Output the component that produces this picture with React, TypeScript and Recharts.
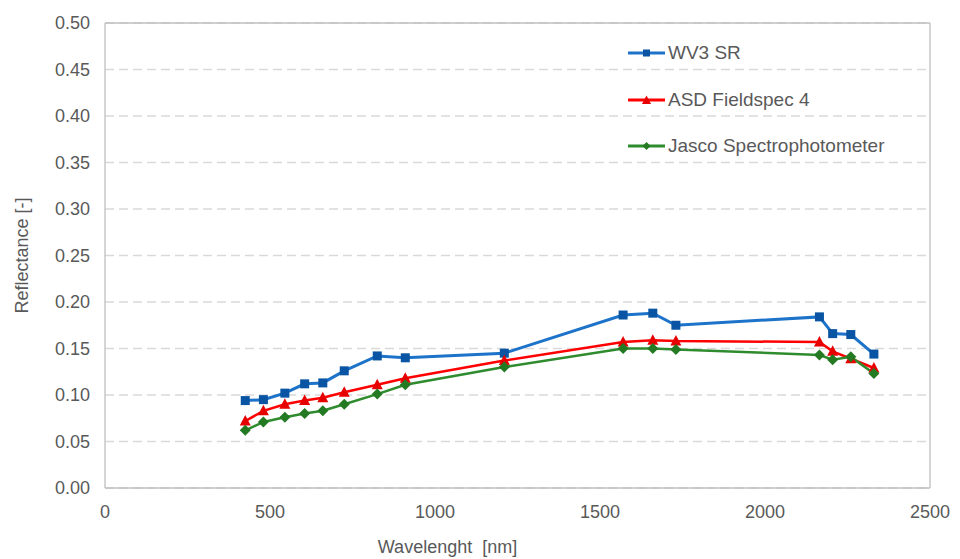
import React from 'react';
import { LineChart, Line, XAxis, YAxis, CartesianGrid, Legend, ReferenceLine } from 'recharts';

const wavelengths = [425, 480, 545, 605, 660, 725, 825, 910, 1210, 1570, 1660, 1730, 2165, 2205, 2260, 2330];
const wv3Values = [0.094, 0.095, 0.102, 0.112, 0.113, 0.126, 0.142, 0.140, 0.145, 0.186, 0.188, 0.175, 0.184, 0.166, 0.165, 0.144];
const asdValues = [0.072, 0.083, 0.090, 0.094, 0.097, 0.103, 0.111, 0.118, 0.137, 0.157, 0.159, 0.158, 0.157, 0.147, 0.139, 0.129];
const jascoValues = [0.062, 0.071, 0.076, 0.080, 0.083, 0.090, 0.101, 0.111, 0.130, 0.150, 0.150, 0.149, 0.143, 0.138, 0.141, 0.123];

const xTicks = [0, 500, 1000, 1500, 2000, 2500];
const yTicks = [0, 0.05, 0.1, 0.15, 0.2, 0.25, 0.3, 0.35, 0.4, 0.45, 0.5];

const seriesNames = ['WV3 SR', 'ASD Fieldspec 4', 'Jasco Spectrophotometer'];

const data = wavelengths.map((w, i) => ({
  w,
  wv3: wv3Values[i],
  asd: asdValues[i],
  jasco: jascoValues[i],
}));

const BLUE_LINE = '#1c73c9';
const BLUE_MARK = '#0a55a3';
const RED_LINE = '#ff0000';
const RED_MARK = '#e60000';
const GREEN_LINE = '#2e8b2e';
const GREEN_MARK = '#237a23';
const FONT = '"Liberation Sans", Arial, sans-serif';
const TEXT = '#595959';

const SquareDot = (props: any) => {
  const { cx, cy, index } = props;
  if (cx == null || cy == null) return <g key={`s${index}`} />;
  return <rect key={`s${index}`} x={cx - 4.5} y={cy - 4.5} width={9} height={9} fill={BLUE_MARK} />;
};

const TriangleDot = (props: any) => {
  const { cx, cy, index } = props;
  if (cx == null || cy == null) return <g key={`t${index}`} />;
  return (
    <polygon
      key={`t${index}`}
      points={`${cx},${cy - 6} ${cx + 5.5},${cy + 4.5} ${cx - 5.5},${cy + 4.5}`}
      fill={RED_MARK}
    />
  );
};

const DiamondDot = (props: any) => {
  const { cx, cy, index } = props;
  if (cx == null || cy == null) return <g key={`d${index}`} />;
  return (
    <polygon
      key={`d${index}`}
      points={`${cx},${cy - 5.5} ${cx + 5.5},${cy} ${cx},${cy + 5.5} ${cx - 5.5},${cy}`}
      fill={GREEN_MARK}
    />
  );
};

const legendItems = [
  { name: seriesNames[0], line: BLUE_LINE, mark: BLUE_MARK, shape: 'square' },
  { name: seriesNames[1], line: RED_LINE, mark: RED_MARK, shape: 'triangle' },
  { name: seriesNames[2], line: GREEN_LINE, mark: GREEN_MARK, shape: 'diamond' },
];

const LegendContent = () => (
  <div style={{ fontFamily: FONT, fontSize: 19, color: TEXT }}>
    {legendItems.map((it) => (
      <div key={it.name} style={{ display: 'flex', alignItems: 'center', height: 46.5 }}>
        <svg width={40} height={12} style={{ marginRight: 0 }}>
          <line x1={0} y1={6} x2={37} y2={6} stroke={it.line} strokeWidth={3} />
          {it.shape === 'square' && <rect x={15} y={2.5} width={7} height={7} fill={it.mark} />}
          {it.shape === 'triangle' && <polygon points="18.5,1.5 23,10 14,10" fill={it.mark} />}
          {it.shape === 'diamond' && <polygon points="18.5,2 22.5,6 18.5,10 14.5,6" fill={it.mark} />}
        </svg>
        <span>{it.name}</span>
      </div>
    ))}
  </div>
);

export default function App() {
  return (
    <div style={{ position: 'absolute', left: 0, top: 0, width: 960, height: 559, background: '#fff' }}>
      <LineChart width={960} height={559} data={data} margin={{ top: 23, right: 30, bottom: 41, left: 0 }}>
        <CartesianGrid horizontal={true} vertical={false} stroke="#d9d9d9" strokeDasharray="9 5" strokeWidth={1.3} />
        <XAxis
          type="number"
          dataKey="w"
          domain={[0, 2500]}
          ticks={xTicks}
          height={30}
          tickLine={false}
          tickSize={0}
          tickMargin={17}
          axisLine={{ stroke: '#bfbfbf', strokeWidth: 1.3 }}
          tick={{ fill: TEXT, fontSize: 18, fontFamily: FONT }}
          label={{
            value: 'Wavelenght\u00a0\u00a0[nm]',
            position: 'bottom',
            offset: 22,
            dx: -70,
            fill: TEXT,
            fontSize: 18,
            fontFamily: FONT,
          }}
        />
        <YAxis
          type="number"
          domain={[0, 0.5]}
          ticks={yTicks}
          width={105}
          tickLine={false}
          tickSize={0}
          tickMargin={15}
          tickFormatter={(v: number) => v.toFixed(2)}
          axisLine={{ stroke: '#bfbfbf', strokeWidth: 1.3 }}
          tick={{ fill: TEXT, fontSize: 18, fontFamily: FONT }}
          label={{
            value: 'Reflectance [-]',
            angle: -90,
            position: 'insideLeft',
            offset: 22,
            style: { textAnchor: 'middle' },
            fill: TEXT,
            fontSize: 18,
            fontFamily: FONT,
          }}
        />
        <ReferenceLine y={0.5} stroke="#bfbfbf" strokeWidth={1.3} />
        <ReferenceLine x={2500} stroke="#bfbfbf" strokeWidth={1.3} />
        <Legend
          layout="vertical"
          align="center"
          verticalAlign="middle"
          content={<LegendContent />}
          wrapperStyle={{ position: 'absolute', left: 628, top: 30, width: 320 }}
        />
        <Line
          type="linear"
          dataKey="wv3"
          name={seriesNames[0]}
          stroke={BLUE_LINE}
          strokeWidth={3}
          dot={SquareDot}
          activeDot={false}
          isAnimationActive={false}
        />
        <Line
          type="linear"
          dataKey="asd"
          name={seriesNames[1]}
          stroke={RED_LINE}
          strokeWidth={2.5}
          dot={TriangleDot}
          activeDot={false}
          isAnimationActive={false}
        />
        <Line
          type="linear"
          dataKey="jasco"
          name={seriesNames[2]}
          stroke={GREEN_LINE}
          strokeWidth={2.5}
          dot={DiamondDot}
          activeDot={false}
          isAnimationActive={false}
        />
      </LineChart>
    </div>
  );
}
